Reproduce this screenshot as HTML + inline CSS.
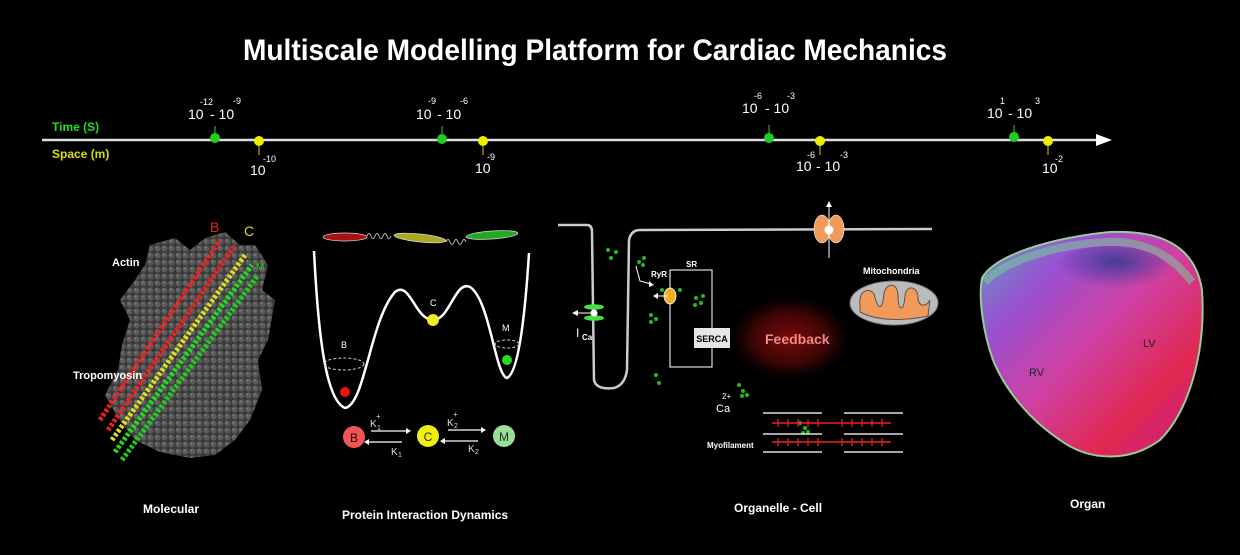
<!DOCTYPE html>
<html><head><meta charset="utf-8"><style>html,body{margin:0;padding:0;background:#000;}svg{display:block}</style></head>
<body>
<svg width="1240" height="555" viewBox="0 0 1240 555" xmlns="http://www.w3.org/2000/svg" font-family="'Liberation Sans', sans-serif">
<defs>
<radialGradient id="fb" cx="50%" cy="50%" r="50%"><stop offset="0" stop-color="#7a0a0a"/><stop offset="0.6" stop-color="#3a0505"/><stop offset="1" stop-color="#000" stop-opacity="0"/></radialGradient>
<linearGradient id="heart" x1="0" y1="0" x2="1" y2="1"><stop offset="0" stop-color="#5aa0c0"/><stop offset="0.25" stop-color="#9a50d0"/><stop offset="0.5" stop-color="#d040a0"/><stop offset="0.75" stop-color="#e02850"/><stop offset="1" stop-color="#c02090"/></linearGradient>
<radialGradient id="hb" cx="0.55" cy="0.3" r="0.5"><stop offset="0" stop-color="#2a3a90" stop-opacity="0.8"/><stop offset="1" stop-color="#2a3a90" stop-opacity="0"/></radialGradient>
<pattern id="dots" width="7" height="7" patternUnits="userSpaceOnUse"><rect width="7" height="7" fill="#3a3a3a"/><circle cx="3.5" cy="3.5" r="3" fill="#5a5a5a"/><circle cx="2.5" cy="2.5" r="1.1" fill="#7a7a7a"/></pattern>
</defs>
<text x="595" y="60" text-anchor="middle" font-size="30" font-weight="bold" fill="#fff" textLength="704" lengthAdjust="spacingAndGlyphs">Multiscale Modelling Platform for Cardiac Mechanics</text>

<!-- timeline -->
<line x1="42" y1="140" x2="1098" y2="140" stroke="#ddd" stroke-width="2.5"/>
<polygon points="1096,134 1112,140 1096,146" fill="#fff"/>
<text x="52" y="131" font-size="12" font-weight="bold" fill="#22dd22">Time (S)</text>
<text x="52" y="158" font-size="12" font-weight="bold" fill="#dddd00">Space (m)</text>
<g fill="#fff" font-size="14">
<line x1="215" y1="126" x2="215" y2="136" stroke="#3c3" /><circle cx="215" cy="138" r="5" fill="#2c2"/>
<text x="188" y="119">10</text><text x="200" y="105" font-size="9">-12</text><text x="210" y="119">- 10</text><text x="233" y="104" font-size="9">-9</text>
<line x1="259" y1="145" x2="259" y2="155" stroke="#cc0"/><circle cx="259" cy="141" r="5" fill="#ee0"/>
<text x="250" y="175">10</text><text x="263" y="162" font-size="9">-10</text>
<line x1="442" y1="126" x2="442" y2="136" stroke="#3c3"/><circle cx="442" cy="139" r="5" fill="#2c2"/>
<text x="416" y="119">10</text><text x="428" y="104" font-size="9">-9</text><text x="437" y="119">- 10</text><text x="460" y="104" font-size="9">-6</text>
<line x1="483" y1="145" x2="483" y2="155" stroke="#cc0"/><circle cx="483" cy="141" r="5" fill="#ee0"/>
<text x="475" y="173">10</text><text x="487" y="160" font-size="9">-9</text>
<line x1="769" y1="125" x2="769" y2="134" stroke="#3c3"/><circle cx="769" cy="138" r="5" fill="#2c2"/>
<text x="742" y="113">10</text><text x="754" y="99" font-size="9">-6</text><text x="765" y="113">- 10</text><text x="787" y="99" font-size="9">-3</text>
<line x1="820" y1="145" x2="820" y2="155" stroke="#cc0"/><circle cx="820" cy="141" r="5" fill="#ee0"/>
<text x="796" y="171">10</text><text x="807" y="158" font-size="9">-6</text><text x="816" y="171">- 10</text><text x="840" y="158" font-size="9">-3</text>
<line x1="1014" y1="125" x2="1014" y2="134" stroke="#3c3"/><circle cx="1014" cy="137" r="5" fill="#2c2"/>
<text x="987" y="118">10</text><text x="1000" y="104" font-size="9">1</text><text x="1008" y="118">- 10</text><text x="1035" y="104" font-size="9">3</text>
<line x1="1048" y1="145" x2="1048" y2="155" stroke="#cc0"/><circle cx="1048" cy="141" r="5" fill="#ee0"/>
<text x="1042" y="173">10</text><text x="1055" y="162" font-size="9">-2</text>
</g>

<!-- Molecular -->
<path d="M150,245 L175,238 L190,250 L205,238 L225,232 L240,245 L255,245 L268,265 L262,290 L275,300 L268,340 L258,360 L262,390 L250,420 L235,440 L215,455 L190,458 L160,452 L135,440 L118,418 L105,395 L118,370 L122,345 L130,320 L120,300 L135,280 L145,265 Z" fill="url(#dots)"/>
<g stroke-width="5" fill="none" stroke-dasharray="3 2">
<path d="M100,420 L220,240" stroke="#e22"/>
<path d="M108,430 L235,245" stroke="#e22"/>
<path d="M112,440 L245,255" stroke="#dd2"/>
<path d="M115,452 L252,265" stroke="#2d2"/>
<path d="M122,460 L258,275" stroke="#2c2"/>
</g>
<text x="210" y="232" font-size="14" fill="#e22">B</text>
<text x="244" y="236" font-size="14" fill="#dd2">C</text>
<text x="256" y="270" font-size="10" fill="#2c2">M</text>
<text x="112" y="266" font-size="11" font-weight="bold" fill="#fff">Actin</text>
<text x="73" y="379" font-size="11" font-weight="bold" fill="#fff">Tropomyosin</text>
<text x="143" y="513" font-size="12" font-weight="bold" fill="#fff">Molecular</text>

<!-- Protein -->
<ellipse cx="345" cy="237" rx="22" ry="4" fill="#a11" stroke="#ddd" stroke-width="0.7"/>
<path d="M367,236 q2,-5 4,0 q2,5 4,0 q2,-5 4,0 q2,5 4,0 q2,-5 4,0 q2,5 4,0" stroke="#bbb" fill="none"/>
<ellipse cx="420" cy="238" rx="26" ry="4" transform="rotate(6 420 238)" fill="#aa2" stroke="#ddd" stroke-width="0.7"/>
<path d="M446,242 q2,-5 4,0 q2,5 4,0 q2,-5 4,0 q2,5 4,0 q2,-5 4,0" stroke="#bbb" fill="none"/>
<ellipse cx="492" cy="235" rx="26" ry="4" transform="rotate(-4 492 235)" fill="#2a2" stroke="#ddd" stroke-width="0.7"/>
<path d="M314,251 C318,330 325,400 345,408 C365,405 370,320 395,292 C410,280 415,320 433,320 C450,320 455,280 470,287 C490,300 495,375 507,378 C520,372 526,300 529,253" stroke="#fff" stroke-width="2.5" fill="none"/>
<ellipse cx="344" cy="364" rx="20" ry="6" stroke="#ccc" fill="none" stroke-dasharray="3 2"/>
<ellipse cx="507" cy="344" rx="12" ry="4" stroke="#ccc" fill="none" stroke-dasharray="3 2"/>
<circle cx="345" cy="392" r="5" fill="#e11"/>
<circle cx="433" cy="320" r="6" fill="#ee2"/>
<circle cx="507" cy="360" r="5" fill="#2d2"/>
<g fill="#fff" font-size="9"><text x="341" y="348">B</text><text x="430" y="306">C</text><text x="502" y="331">M</text></g>
<circle cx="354" cy="437" r="11" fill="#e55"/><text x="354" y="442" font-size="12" text-anchor="middle" fill="#300">B</text>
<circle cx="428" cy="436" r="11" fill="#ee1"/><text x="428" y="441" font-size="12" text-anchor="middle" fill="#330">C</text>
<circle cx="504" cy="436" r="11" fill="#9d9"/><text x="504" y="441" font-size="12" text-anchor="middle" fill="#232">M</text>
<g stroke="#fff" stroke-width="1.2"><line x1="371" y1="431" x2="406" y2="431"/><line x1="369" y1="442" x2="402" y2="442"/><line x1="448" y1="430" x2="481" y2="430"/><line x1="445" y1="441" x2="478" y2="441"/></g>
<g fill="#fff"><polygon points="406,428 411,431 406,434"/><polygon points="369,439 364,442 369,445"/><polygon points="481,427 486,430 481,433"/><polygon points="445,438 440,441 445,444"/></g>
<g fill="#ddd" font-size="10"><text x="370" y="427">K</text><text x="377" y="430" font-size="7">1</text><text x="376" y="419" font-size="8">+</text>
<text x="391" y="455">K</text><text x="398" y="457" font-size="7">1</text>
<text x="447" y="426">K</text><text x="454" y="428" font-size="7">2</text><text x="453" y="417" font-size="8">+</text>
<text x="468" y="452">K</text><text x="475" y="454" font-size="7">2</text></g>
<text x="342" y="519" font-size="12" font-weight="bold" fill="#fff">Protein Interaction Dynamics</text>

<!-- Organelle -->
<ellipse cx="790" cy="338" rx="65" ry="45" fill="url(#fb)"/>
<text x="765" y="344" font-size="14" font-weight="bold" fill="#f08888">Feedback</text>
<path d="M558,225 L587,225 Q592,225 592,232 L594,380 Q596,390 614,388 Q625,385 627,370 L629,240 Q631,230 640,230 L932,229" stroke="#ccc" stroke-width="2.5" fill="none"/>
<ellipse cx="822" cy="229" rx="8" ry="14" fill="#f39a5a" stroke="#fff" stroke-width="0.6"/><ellipse cx="836" cy="229" rx="8" ry="14" fill="#f39a5a" stroke="#fff" stroke-width="0.6"/>
<line x1="829" y1="258" x2="829" y2="206" stroke="#fff"/><polygon points="826,207 829,201 832,207" fill="#fff"/><circle cx="829" cy="230" r="4.5" fill="#fff"/>
<ellipse cx="594" cy="307" rx="10" ry="2.8" fill="#4d4"/><ellipse cx="594" cy="318" rx="10" ry="2.8" fill="#4d4"/><circle cx="594" cy="313" r="3.5" fill="#fff"/>
<line x1="592" y1="313" x2="576" y2="313" stroke="#fff"/><polygon points="578,310 572,313 578,316" fill="#fff"/>
<text x="576" y="337" font-size="12" fill="#fff">I</text><text x="582" y="340" font-size="8" font-weight="bold" fill="#fff">Ca</text>
<rect x="670" y="270" width="42" height="97" fill="none" stroke="#ddd" stroke-width="1.2"/>
<rect x="694" y="328" width="36" height="20" fill="#e6e6e6"/>
<text x="712" y="342" font-size="9" font-weight="bold" fill="#000" text-anchor="middle">SERCA</text>
<text x="686" y="267" font-size="8" font-weight="bold" fill="#fff">SR</text>
<text x="651" y="277" font-size="8" font-weight="bold" fill="#fff">RyR</text>
<path d="M636,266 L640,281 L651,284" stroke="#fff" fill="none"/><polygon points="649,281 654,285 649,287" fill="#fff"/>
<ellipse cx="670" cy="296" rx="6" ry="8" fill="#f0b020" stroke="#fff" stroke-width="0.8"/>
<line x1="668" y1="296" x2="656" y2="296" stroke="#fff"/><polygon points="658,293 653,296 658,299" fill="#fff"/>
<g fill="#2b2">
<circle cx="608" cy="250" r="2"/><circle cx="616" cy="252" r="2"/><circle cx="611" cy="258" r="2"/>
<circle cx="639" cy="262" r="2"/><circle cx="644" cy="258" r="2"/><circle cx="643" cy="265" r="2"/>
<circle cx="662" cy="290" r="2"/><circle cx="680" cy="290" r="2"/>
<circle cx="696" cy="298" r="2"/><circle cx="703" cy="296" r="2"/><circle cx="695" cy="305" r="2"/><circle cx="701" cy="303" r="2"/>
<circle cx="651" cy="315" r="2"/><circle cx="656" cy="319" r="2"/><circle cx="651" cy="322" r="2"/>
<circle cx="656" cy="375" r="2"/><circle cx="659" cy="383" r="2"/>
<circle cx="739" cy="385" r="2"/><circle cx="743" cy="391" r="2"/><circle cx="742" cy="396" r="2"/><circle cx="747" cy="395" r="2"/>
<circle cx="800" cy="423" r="2"/><circle cx="805" cy="428" r="2"/><circle cx="808" cy="432" r="2"/><circle cx="803" cy="433" r="2"/>
</g>
<text x="716" y="412" font-size="11" fill="#fff">Ca</text><text x="722" y="399" font-size="8" fill="#fff">2+</text>
<g stroke="#ddd" stroke-width="1.5"><line x1="763" y1="413" x2="822" y2="413"/><line x1="844" y1="413" x2="903" y2="413"/>
<line x1="763" y1="434" x2="822" y2="434"/><line x1="844" y1="434" x2="903" y2="434"/>
<line x1="763" y1="452" x2="822" y2="452"/><line x1="844" y1="452" x2="903" y2="452"/></g>
<g stroke="#e22" stroke-width="1.5"><line x1="772" y1="423" x2="891" y2="423"/><line x1="772" y1="442" x2="891" y2="442"/></g>
<g stroke="#e22" stroke-width="1.2">
<path d="M778,419v8M788,419v8M798,419v8M808,419v8M818,419v8M842,419v8M852,419v8M862,419v8M872,419v8M882,419v8"/>
<path d="M778,438v8M788,438v8M798,438v8M808,438v8M818,438v8M842,438v8M852,438v8M862,438v8M872,438v8M882,438v8"/>
</g>
<text x="707" y="448" font-size="8" font-weight="bold" fill="#fff">Myofilament</text>
<text x="863" y="274" font-size="9" font-weight="bold" fill="#fff">Mitochondria</text>
<ellipse cx="894" cy="303" rx="44" ry="22" fill="#bbb" stroke="#777"/>
<path d="M860,305 C858,292 868,286 874,294 C878,310 882,312 884,294 C886,282 898,282 898,296 C898,312 904,312 905,296 C906,284 918,286 918,298 C918,306 926,308 930,300 L928,316 C900,322 875,320 860,312 Z" fill="#f39a5a" stroke="#555" stroke-width="1"/>
<text x="734" y="512" font-size="12" font-weight="bold" fill="#fff">Organelle - Cell</text>

<!-- Organ -->
<path d="M982,278 C995,255 1050,238 1110,232 C1160,230 1195,245 1202,290 C1206,350 1190,410 1160,440 C1130,462 1090,462 1060,440 C1030,420 1005,390 993,360 C984,335 978,300 982,278 Z" fill="url(#heart)" stroke="#9c9" stroke-width="2"/>
<path d="M985,282 C1010,255 1080,240 1120,242 C1155,245 1175,260 1192,282" stroke="#7c9" stroke-width="8" fill="none" opacity="0.55"/>
<ellipse cx="1110" cy="272" rx="60" ry="26" fill="url(#hb)"/>
<text x="1029" y="376" font-size="11" fill="#222">RV</text>
<text x="1143" y="347" font-size="11" fill="#222">LV</text>
<text x="1070" y="508" font-size="12" font-weight="bold" fill="#fff">Organ</text>
</svg>
</body></html>
